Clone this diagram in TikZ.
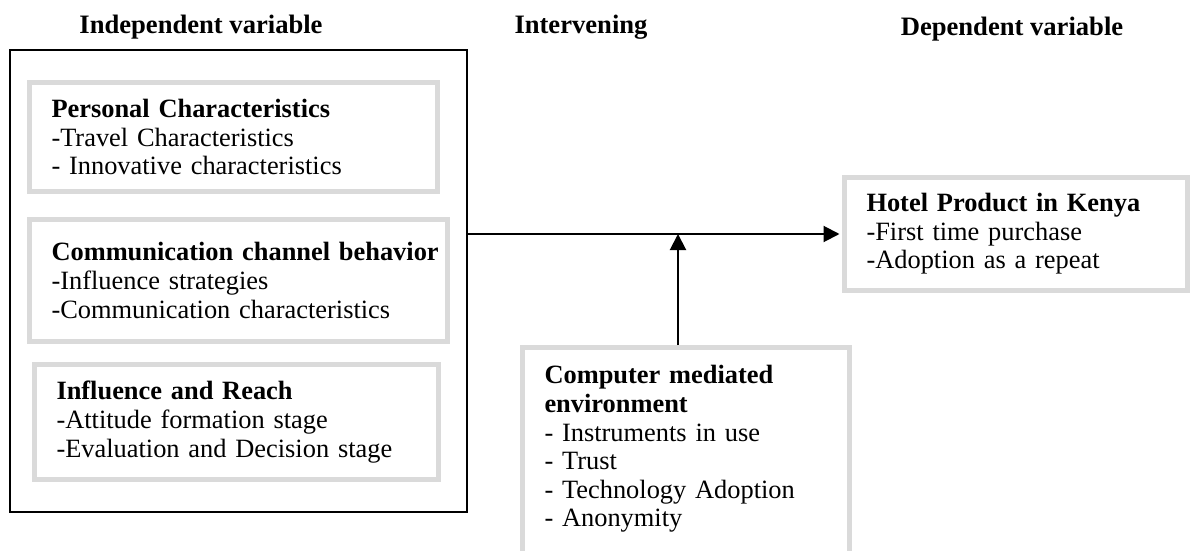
\documentclass[tikz,border=0pt]{standalone}
\usepackage{fontspec}
\setmainfont{Liberation Serif}
\usetikzlibrary{positioning, arrows.meta}
\definecolor{boxgray}{RGB}{218,218,218}
\tikzset{
x=0.5pt, y=-0.5pt, % one unit is one pixel of the sketch, y runs downwards
header/.style={font=\fontsize{13.3}{15}\selectfont\bfseries, anchor=base}, % column titles
outerbox/.style={draw, line width=1pt}, % the black frame round the independent variables
varbox/.style={draw=boxgray, line width=2.5pt, inner xsep=11pt, align=left, font=\fontsize{13.2}{14.3}\selectfont}, % the grey boxes
link/.style={-{Triangle[length=8pt,width=8pt]}, line width=1pt}, % the arrows
}

\begin{document}
\begin{tikzpicture}
       \useasboundingbox (0,0) rectangle (1195,551);

       \node[header] (indeplbl) at (201,34) {Independent variable};
       \node[header] (intlbl) at (581,34) {Intervening};
       \node[header] (deplbl) at (1012,36) {Dependent variable};

       \node[outerbox, minimum width=228.5pt, minimum height=231pt] (indep) at (238.5,281) {};
       \node[varbox, text width=182pt, minimum height=54.5pt] (pers) at (233.5,137)
            {\textbf{Personal Characteristics}\\-Travel Characteristics\\- Innovative characteristics};
       \node[varbox, text width=187pt, minimum height=61pt] (comm) at (238.5,280.5)
            {\mbox{\textbf{Communication channel behavior}}\\-Influence strategies\\-Communication characteristics};
       \node[varbox, text width=180pt, minimum height=57.5pt] (infl) at (236.5,422)
            {\textbf{Influence and Reach}\\-Attitude formation stage\\-Evaluation and Decision stage};

       \node[varbox, text width=149.5pt, minimum height=56.5pt] (hotel) at (1016,234)
            {\textbf{Hotel Product in Kenya}\\-First time purchase\\-Adoption as a repeat};
       \node[varbox, text width=141.5pt, minimum height=113pt] (cme) at (686,460.5)
            {\textbf{Computer mediated}\\\textbf{environment}\\- Instruments in use\\- Trust\\- Technology Adoption\\- Anonymity\\\mbox{}};

       \coordinate (meet) at (678,234);

       \draw[link, shorten >=1.25pt] (indep.east |- hotel.west) -- (hotel.west);
       \draw[link] (meet |- cme.north) -- (meet);
    \end{tikzpicture}
\end{document}
